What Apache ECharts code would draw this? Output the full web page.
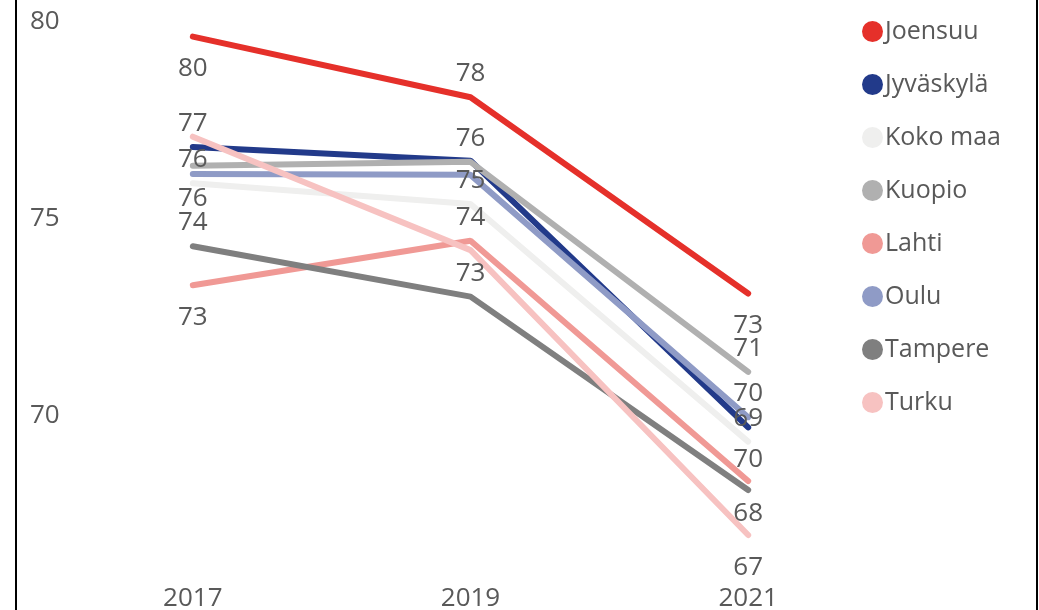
<!DOCTYPE html>
<html>
<head>
<meta charset="utf-8">
<script src="https://cdn.jsdelivr.net/npm/echarts@6/dist/echarts.min.js"></script>
<style>
  html, body { margin: 0; padding: 0; background: #fff; }
  #chart { width: 1039px; height: 610px; }
</style>
</head>
<body>
<div id="chart"></div>
<script>
var years = ['2017', '2019', '2021'];
var cities = ['Joensuu', 'Jyväskylä', 'Koko maa', 'Kuopio', 'Lahti', 'Oulu', 'Tampere', 'Turku'];
var joensuu = [79.63, 78.09, 73.11];
var jyvaskyla = [76.83, 76.48, 69.71];
var kokoMaa = [75.91, 75.38, 69.35];
var kuopio = [76.35, 76.45, 71.12];
var lahti = [73.32, 74.45, 68.35];
var oulu = [76.14, 76.12, 69.97];
var tampere = [74.31, 73.03, 68.12];
var turku = [77.09, 74.21, 66.98];

var seriesValues = [joensuu, jyvaskyla, kokoMaa, kuopio, lahti, oulu, tampere, turku];
var colors = ['#e5302a', '#223a8a', '#efefee', '#b0b0b0', '#f09995', '#8f9bc6', '#7f7f7f', '#f7c2c1'];

// where each value label sits (top / bottom / hidden)
var labelPlace = [
  ['bottom', 'top', 'bottom'],
  ['top', null, 'bottom'],
  ['top', 'top', 'top'],
  ['bottom', 'top', 'top'],
  ['bottom', 'top', 'bottom'],
  [null, null, 'top'],
  ['top', 'top', null],
  [null, null, 'bottom']
];

var textColor = '#595959';
var fontFamily = '"Open Sans", sans-serif';

var chart = echarts.init(document.getElementById('chart'));

var series = cities.map(function (name, i) {
  return {
    name: name,
    type: 'line',
    symbol: 'circle',
    symbolSize: 1,
    itemStyle: { color: colors[i], opacity: 1, borderWidth: 0 },
    lineStyle: { width: 6, color: colors[i], cap: 'round' },
    data: seriesValues[i].map(function (v, j) {
      var pos = labelPlace[i][j];
      return {
        value: v,
        itemStyle: { color: 'rgba(0,0,0,0)' },
        label: {
          show: !!pos,
          position: pos || 'top',
          distance: pos === 'bottom' ? 19 : 10,
          formatter: function (p) { return Math.round(p.value); },
          color: textColor,
          fontSize: 26,
          fontFamily: fontFamily
        }
      };
    })
  };
});

chart.setOption({
  animation: false,
  color: colors,
  legend: {
    data: cities,
    orient: 'vertical',
    left: 857,
    top: 14,
    icon: 'circle',
    itemWidth: 21,
    itemHeight: 21,
    itemGap: 28,
    textStyle: { color: textColor, fontSize: 25, fontFamily: fontFamily, lineHeight: 21, padding: [0, 0, 0, -3] }
  },
  grid: { left: 54, top: 22, width: 833, height: 591, containLabel: false, outerBoundsMode: 'none' },
  xAxis: {
    type: 'category',
    data: years,
    boundaryGap: true,
    axisLine: { show: false },
    axisTick: { show: false },
    axisLabel: { inside: true, margin: 1, color: textColor, fontSize: 26, fontFamily: fontFamily }
  },
  yAxis: {
    type: 'value',
    min: 65,
    max: 80,
    interval: 5,
    splitLine: { show: false },
    axisLine: { show: false },
    axisTick: { show: false },
    axisLabel: { showMinLabel: false, align: 'left', margin: 24, padding: [4, 0, 0, 0], color: textColor, fontSize: 26, fontFamily: fontFamily }
  },
  graphic: [
    { type: 'line', shape: { x1: 16, y1: 0, x2: 16, y2: 610 }, style: { stroke: '#000', lineWidth: 2 } },
    { type: 'line', shape: { x1: 1037, y1: 0, x2: 1037, y2: 610 }, style: { stroke: '#000', lineWidth: 2 } }
  ],
  series: series
});
</script>
</body>
</html>
